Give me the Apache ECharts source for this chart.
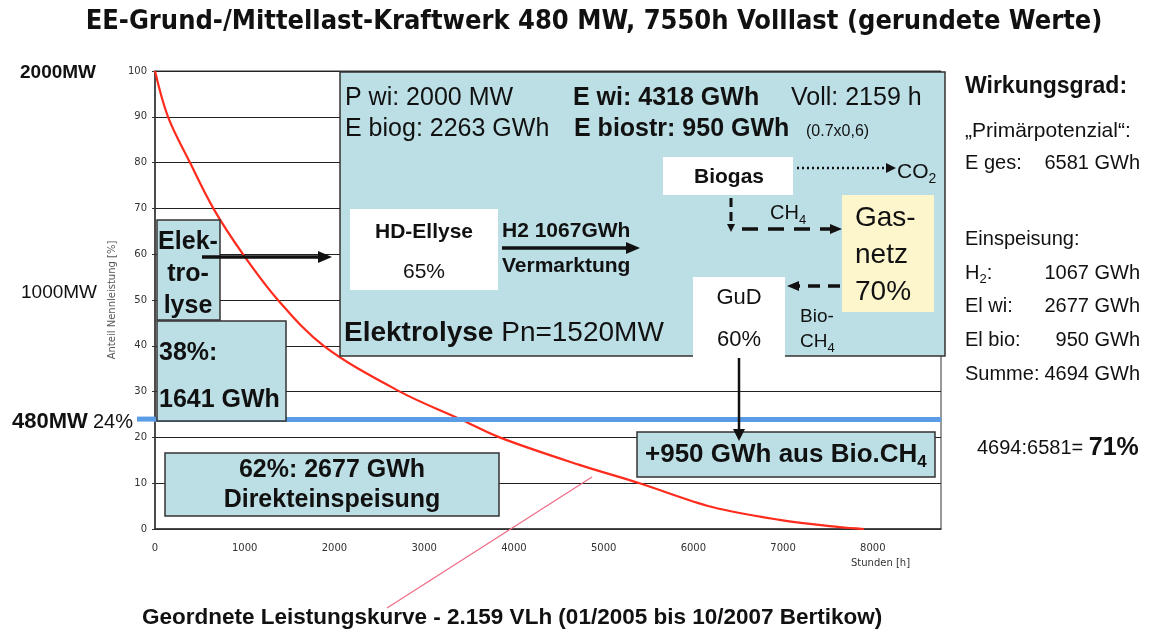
<!DOCTYPE html>
<html>
<head>
<meta charset="utf-8">
<script src="https://cdn.jsdelivr.net/npm/echarts@6/dist/echarts.min.js"></script>
<style>
  html, body { margin: 0; padding: 0; background: #fff; }
  #chart { width: 1149px; height: 633px; }
</style>
</head>
<body>
<div id="chart"></div>
<script>
// ordered load curve (Stunden vs. Anteil Nennleistung)
const hours  = [0, 145, 390, 650, 980, 1370, 1880, 2730, 3400, 3840, 4730, 5400, 6210, 6960, 7630, 7900]
const shares = [100, 90, 80, 70, 60, 50, 40, 30, 24, 20, 14, 10, 4.8, 2, 0.4, 0]
const hourLabelMax = 8000
const yearHours = 8760
const baseLoadShare = 24

const F = '"Liberation Sans", Arial, sans-serif'
const SMALL = '"DejaVu Sans", Verdana, sans-serif'
const BLUE = '#bcdfe6'

function rect(x, y, w, h, fill, stroke) {
  return {
    type: 'rect', z: 10,
    shape: { x, y, width: w, height: h },
    style: { fill, stroke: stroke || null, lineWidth: 1.5 },
  }
}

function text(x, y, str, size, weight, align, extra) {
  return {
    type: 'text', z: 15, x, y,
    style: Object.assign({
      text: str,
      font: `${weight || 'normal'} ${size}px ${F}`,
      fill: '#111',
      textAlign: align || 'left',
      textVerticalAlign: 'middle',
    }, extra || {}),
  }
}

// subscript helper style
function sub(size, weight, lh, subLh) {
  return {
    lineHeight: lh,
    rich: { s: { font: `${weight || 'normal'} ${size}px ${F}`, lineHeight: subLh, verticalAlign: 'bottom', fill: '#111' } },
  }
}

function arrow(x1, y1, x2, y2, o = {}) {
  const w = o.width || 3, L = o.head || 12, H = o.half || 6
  const dx = x2 - x1, dy = y2 - y1, len = Math.hypot(dx, dy)
  const ux = dx / len, uy = dy / len
  const bx = x2 - ux * L, by = y2 - uy * L
  return [
    { type: 'line', z: 20, shape: { x1, y1, x2: bx, y2: by }, style: { stroke: '#111', lineWidth: w, lineDash: o.dash || null } },
    { type: 'polygon', z: 20, shape: { points: [[x2, y2], [bx - uy * H, by + ux * H], [bx + uy * H, by - ux * H]] }, style: { fill: '#111' } },
  ]
}

const chart = echarts.init(document.getElementById('chart'))
chart.setOption({
  animation: false,
  backgroundColor: '#fff',
  grid: { left: 155, top: 71, right: 208, bottom: 104, show: true, borderColor: '#333', borderWidth: 1, backgroundColor: 'transparent' },
  xAxis: {
    type: 'value', min: 0, max: yearHours, interval: 1000,
    axisLine: { lineStyle: { color: '#333', width: 1.5 } },
    axisTick: { show: false },
    splitLine: { show: false },
    axisLabel: {
      color: '#333', fontFamily: SMALL, fontSize: 10, margin: 14, showMaxLabel: false,
      formatter: (v) => v > hourLabelMax ? '' : String(v),
    },
  },
  yAxis: {
    type: 'value', min: 0, max: 100, interval: 10,
    name: 'Anteil Nennleistung [%]', nameLocation: 'middle', nameGap: 34,
    nameTextStyle: { color: '#555', fontFamily: SMALL, fontSize: 10 },
    axisLine: { show: true, lineStyle: { color: '#333', width: 1.5 } },
    axisTick: { show: true, length: 3, lineStyle: { color: '#333' } },
    splitLine: { lineStyle: { color: '#222', width: 1.2 } },
    axisLabel: { color: '#333', fontFamily: SMALL, fontSize: 10, margin: 8 },
  },
  series: [{
    type: 'line',
    data: hours.map((h, i) => [h, shares[i]]),
    smooth: 0.35,
    showSymbol: false,
    lineStyle: { color: '#ff2b1c', width: 2.2 },
    markLine: {
      silent: true, symbol: ['none', 'none'], label: { show: false },
      lineStyle: { color: '#5a9de6', width: 5, type: 'solid' },
      data: [{ yAxis: baseLoadShare }],
    },
  }],
})

const gridLeft = chart.convertToPixel({ gridIndex: 0 }, [0, baseLoadShare])

const elements = [
  // title and caption
  text(594, 22, 'EE-Grund-/Mittellast-Kraftwerk 480 MW, 7550h Volllast (gerundete Werte)', 27, 'bold', 'center',
    { font: 'bold 27px "Liberation Sans Narrow", "DejaVu Sans Condensed", "Liberation Sans", sans-serif' }),
  text(142, 618, 'Geordnete Leistungskurve - 2.159 VLh (01/2005 bis 10/2007 Bertikow)', 22.5, 'bold'),
  { type: 'line', z: 12, shape: { x1: 592, y1: 477, x2: 387, y2: 608 }, style: { stroke: '#f06a85', lineWidth: 1.2 } },
  { type: 'text', z: 15, x: 851, y: 563, style: { text: 'Stunden [h]', font: `10px ${SMALL}`, fill: '#333', textVerticalAlign: 'middle' } },

  // left side labels
  text(20, 73, '2000MW', 19, 'bold'),
  text(21, 293, '1000MW', 19),
  text(12, 422, '480MW', 22, 'bold'),
  text(133, 422, '24%', 20, 'normal', 'right'),
  { type: 'line', z: 5, shape: { x1: 137, y1: gridLeft[1], x2: gridLeft[0], y2: gridLeft[1] }, style: { stroke: '#5a9de6', lineWidth: 5 } },

  // big box
  rect(340, 72, 605, 284, BLUE, '#333'),
  text(345, 98, 'P wi: 2000 MW', 25),
  text(573, 98, 'E wi: 4318 GWh', 25, 'bold'),
  text(791, 98, 'Voll: 2159 h', 25),
  text(345, 129, 'E biog: 2263 GWh', 25),
  text(574, 129, 'E biostr: 950 GWh', 25, 'bold'),
  text(806, 132, '(0.7x0,6)', 16),

  rect(350, 209, 148, 81, '#fff'),
  text(424, 232, 'HD-Ellyse', 21, 'bold', 'center'),
  text(424, 272, '65%', 21, 'normal', 'center'),
  text(502, 231, 'H2 1067GWh', 21, 'bold'),
  text(502, 266, 'Vermarktung', 21, 'bold'),
  ...arrow(502, 248, 640, 248, { width: 3.5, head: 14, half: 6 }),

  rect(663, 157, 130, 38, '#fff'),
  text(729, 177, 'Biogas', 21, 'bold', 'center'),
  ...arrow(797, 168, 896, 168, { width: 2.5, dash: [2, 3], head: 10, half: 5 }),
  text(897, 172, 'CO{s|2}', 21, 'normal', 'left', sub(14, 'normal', 28, 12)),
  ...arrow(731, 198, 731, 232, { width: 3, dash: [9, 5], head: 8, half: 4 }),
  ...arrow(742, 229, 842, 229, { width: 3.5, dash: [16, 10], head: 12, half: 5 }),
  text(770, 213, 'CH{s|4}', 20, 'normal', 'left', sub(13, 'normal', 28, 12)),

  rect(842, 195, 92, 117, '#fdf5cc'),
  text(855, 255, 'Gas-\nnetz\n70%', 28, 'normal', 'left', { lineHeight: 37 }),

  rect(693, 277, 92, 81, '#fff'),
  text(739, 298, 'GuD', 22, 'normal', 'center'),
  text(739, 340, '60%', 22, 'normal', 'center'),
  ...arrow(840, 286, 787, 286, { width: 3.5, dash: [12, 8], head: 12, half: 5 }),
  text(800, 317, 'Bio-', 19),
  text(800, 342, 'CH{s|4}', 19, 'normal', 'left', sub(13, 'normal', 26, 10)),

  text(344, 333, '{b|Elektrolyse} Pn=1520MW', 28, 'normal', 'left',
    { rich: { b: { font: `bold 28px ${F}`, fill: '#111' } } }),

  // GuD -> +950
  rect(637, 432, 298, 45, BLUE, '#333'),
  text(645, 455, '+950 GWh aus Bio.CH{s|4}', 26, 'bold', 'left', sub(17, 'bold', 32, 12)),
  ...arrow(739, 358, 739, 441, { width: 2.5, head: 12, half: 6 }),

  // left boxes
  rect(157, 220, 63, 100, BLUE, '#333'),
  text(188, 274, 'Elek-\ntro-\nlyse', 25, 'bold', 'center', { lineHeight: 32 }),
  ...arrow(202, 257, 332, 257, { width: 3.5, head: 14, half: 6 }),
  rect(157, 321, 129, 100, BLUE, '#333'),
  text(159, 353, '38%:', 25, 'bold'),
  text(159, 400, '1641 GWh', 25, 'bold'),
  rect(165, 453, 334, 63, BLUE, '#333'),
  text(332, 485, '62%: 2677 GWh\nDirekteinspeisung', 25, 'bold', 'center', { lineHeight: 30 }),

  // right column
  text(965, 87, 'Wirkungsgrad:', 23, 'bold'),
  text(965, 131, '\u201EPrimärpotenzial\u201C:', 21),
  text(965, 163, 'E ges:', 20),
  text(1140, 163, '6581 GWh', 20, 'normal', 'right'),
  text(965, 239, 'Einspeisung:', 20),
  text(965, 273, 'H{s|2}:', 20, 'normal', 'left', sub(13, 'normal', 26, 10)),
  text(1140, 273, '1067 GWh', 20, 'normal', 'right'),
  text(965, 306, 'El wi:', 20),
  text(1140, 306, '2677 GWh', 20, 'normal', 'right'),
  text(965, 340, 'El bio:', 20),
  text(1140, 340, '950 GWh', 20, 'normal', 'right'),
  text(965, 374, 'Summe:', 20),
  text(1140, 374, '4694 GWh', 20, 'normal', 'right'),
  text(977, 448, '4694:6581= {b|71%}', 20, 'normal', 'left',
    { rich: { b: { font: `bold 25px ${F}`, fill: '#111' } } }),
]

chart.setOption({ graphic: elements })
</script>
</body>
</html>
